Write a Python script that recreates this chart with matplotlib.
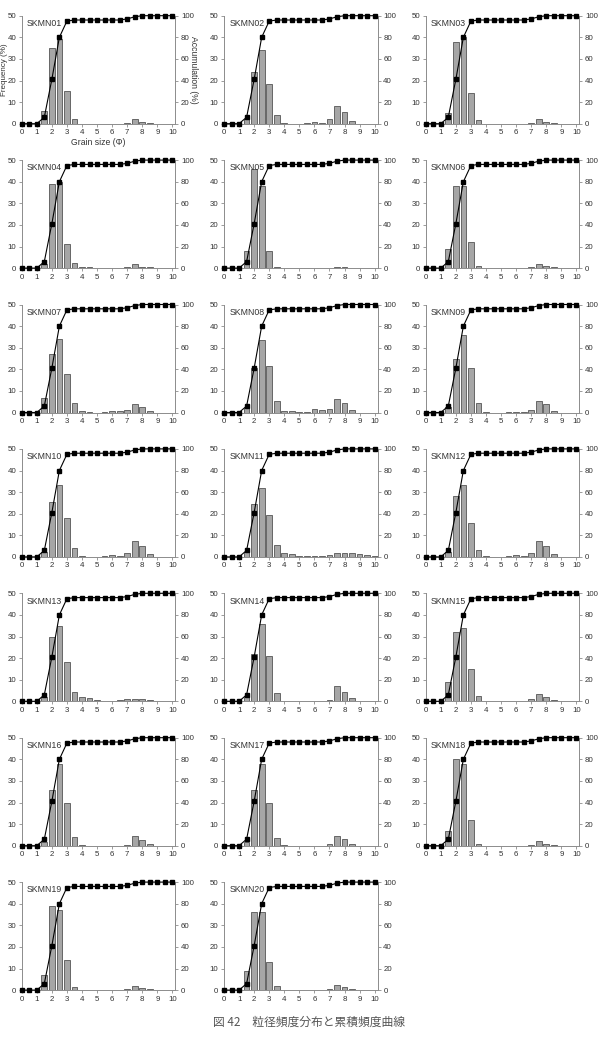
import matplotlib
matplotlib.use("Agg")
import matplotlib.pyplot as plt
import numpy as np

plt.rcParams['font.family'] = ['Liberation Sans', 'DejaVu Sans']

# bin centres (phi) for the frequency bars
bins = [0.5, 1.0, 1.5, 2.0, 2.5, 3.0, 3.5, 4.0, 4.5, 5.0,
        5.5, 6.0, 6.5, 7.0, 7.5, 8.0, 8.5, 9.0, 9.5, 10.0]

# accumulation curve (same on every panel in the original)
cum_x = [0, 0.5, 1, 1.5, 2, 2.5, 3, 3.5, 4, 4.5, 5, 5.5, 6, 6.5, 7, 7.5, 8, 8.5, 9, 9.5, 10]
cum_y = [0, 0, 0, 6, 41, 80, 95, 96, 96, 96, 96, 96, 96, 96, 97, 99, 100, 100, 100, 100, 100]

samples = ["SKMN01", "SKMN02", "SKMN03", "SKMN04", "SKMN05", "SKMN06", "SKMN07",
           "SKMN08", "SKMN09", "SKMN10", "SKMN11", "SKMN12", "SKMN13", "SKMN14",
           "SKMN15", "SKMN16", "SKMN17", "SKMN18", "SKMN19", "SKMN20"]

freq_01 = [0, 0, 6, 35, 39, 15, 2, 0, 0, 0, 0, 0, 0, 0.3, 2, 1, 0.3, 0, 0, 0]
freq_02 = [0, 0, 2, 24, 34, 18.5, 4, 0.3, 0, 0, 0.3, 0.8, 0.3, 2, 8, 5.5, 1.3, 0, 0, 0]
freq_03 = [0, 0, 5, 38, 40, 14, 1.5, 0, 0, 0, 0, 0, 0, 0.3, 2, 0.8, 0.3, 0, 0, 0]
freq_04 = [0, 0, 2, 39, 40, 11, 2.5, 0.5, 0.3, 0, 0, 0, 0, 0.3, 1.8, 0.6, 0.3, 0, 0, 0]
freq_05 = [0, 0, 8, 46, 38, 8, 0.3, 0, 0, 0, 0, 0, 0, 0, 0.4, 0.3, 0, 0, 0, 0]
freq_06 = [0, 0, 9, 38, 38, 12, 1, 0, 0, 0, 0, 0, 0, 0.4, 1.8, 0.8, 0.3, 0, 0, 0]
freq_07 = [0, 0, 6.5, 27, 34, 18, 4.3, 0.7, 0.4, 0, 0.3, 0.7, 0.6, 1, 4, 2.6, 0.6, 0, 0, 0]
freq_08 = [0, 0, 2, 20.5, 33.5, 21.5, 5.2, 0.8, 0.6, 0.3, 0.3, 1.6, 1, 1.7, 6.3, 4.4, 1, 0, 0, 0]
freq_09 = [0, 0, 2.5, 25, 36, 20.5, 4.5, 0.3, 0, 0, 0.3, 0.3, 0.3, 1, 5.5, 3.8, 0.8, 0, 0, 0]
freq_10 = [0, 0, 2.5, 25.5, 33.5, 18, 4, 0.3, 0, 0, 0.2, 0.7, 0.6, 1.6, 7.3, 5.2, 1.2, 0, 0, 0]
freq_11 = [0, 0, 2.5, 24.5, 32, 19.5, 5.5, 1.8, 1.4, 0.6, 0.3, 0.5, 0.3, 1, 1.6, 1.8, 1.8, 1.4, 0.7, 0.3]
freq_12 = [0, 0, 2.5, 28, 33.5, 15.5, 3, 0.2, 0, 0, 0.2, 0.7, 0.6, 1.6, 7.3, 5.2, 1.2, 0, 0, 0]
freq_13 = [0, 0, 2, 30, 35, 18, 4.5, 2, 1.5, 0.5, 0.3, 0.3, 0.5, 1, 1.2, 1, 0.7, 0.3, 0, 0]
freq_14 = [0, 0, 2, 22, 36, 21, 4, 0.3, 0, 0, 0, 0, 0, 0.8, 7, 4.5, 1.5, 0, 0, 0]
freq_15 = [0, 0, 9, 32, 34, 15, 2.5, 0.3, 0, 0, 0, 0, 0, 1, 3.5, 2, 0.5, 0, 0, 0]
freq_16 = [0, 0, 1.5, 26, 38, 20, 4, 0.3, 0, 0, 0, 0, 0, 0.5, 4.5, 2.5, 0.7, 0, 0, 0]
freq_17 = [0, 0, 1.5, 26, 38, 20, 3.5, 0.3, 0, 0, 0, 0, 0, 1, 4.5, 3, 0.7, 0, 0, 0]
freq_18 = [0, 0, 7, 40, 38, 12, 1, 0, 0, 0, 0, 0, 0, 0.3, 2, 1, 0.3, 0, 0, 0]
freq_19 = [0, 0, 7, 39, 37, 14, 1.5, 0, 0, 0, 0, 0, 0, 0.3, 2, 0.8, 0.3, 0, 0, 0]
freq_20 = [0, 0, 9, 36, 36, 13, 2, 0, 0, 0, 0, 0, 0, 0.3, 2.5, 1.5, 0.5, 0, 0, 0]

freqs = [freq_01, freq_02, freq_03, freq_04, freq_05, freq_06, freq_07, freq_08,
         freq_09, freq_10, freq_11, freq_12, freq_13, freq_14, freq_15, freq_16,
         freq_17, freq_18, freq_19, freq_20]

W, H = 603, 1043
fig = plt.figure(figsize=(W / 100, H / 100), dpi=100)
fig.set_facecolor("white")

col_x = [21.7, 224, 425.7]
ax_w = 153.7
ax_h = 108
axis_col = "#8c8c8c"
txt_col = "#333333"

for i, (name, fr) in enumerate(zip(samples, freqs)):
    r, c = divmod(i, 3)
    top = 15.7 + 144.4 * r
    ax = fig.add_axes([col_x[c] / W, 1 - (top + ax_h) / H, ax_w / W, ax_h / H])
    ax.bar(bins, fr, width=0.38, color="#a6a6a6", edgecolor="#3c3c3c", lw=0.5, zorder=2)
    ax.set_xlim(0, 10.2)
    ax.set_ylim(0, 50)
    ax.set_xticks(range(11))
    ax.set_yticks(range(0, 51, 10))
    ax.spines["top"].set_visible(False)
    ax.spines["right"].set_visible(False)
    for s in ("left", "bottom"):
        ax.spines[s].set_color(axis_col)
        ax.spines[s].set_linewidth(0.7)
    ax.tick_params(direction="out", length=2.5, width=0.6, color=axis_col,
                   labelsize=5.7, labelcolor=txt_col, pad=1.5)
    ax.text(0.35, 48.5, name, fontsize=6.3, color=txt_col, va="top", ha="left")

    ax2 = ax.twinx()
    ax2.plot(cum_x, cum_y, color="black", lw=0.8, marker="s", ms=3.2,
             clip_on=False, zorder=3)
    ax2.set_ylim(0, 100)
    ax2.set_yticks(range(0, 101, 20))
    ax2.spines["top"].set_visible(False)
    ax2.spines["left"].set_visible(False)
    ax2.spines["bottom"].set_visible(False)
    ax2.spines["right"].set_color(axis_col)
    ax2.spines["right"].set_linewidth(0.7)
    ax2.tick_params(direction="out", length=2.5, width=0.6, color=axis_col,
                    labelsize=5.7, labelcolor=txt_col, pad=1.5)

    if i == 0:
        fig.text(1 / W, 1 - (top + ax_h / 2) / H, "Frequency (%)", fontsize=5.8,
                 color=txt_col, rotation=90, ha="left", va="center")
        ax.set_xlabel("Grain size (Φ)", fontsize=6.2, color=txt_col, labelpad=1)
        ax2.set_ylabel("Accumulation (%)", fontsize=6.2, color=txt_col,
                       rotation=-90, labelpad=3)

fig.text(0.513, 1 - 1022 / H, "図 42\u3000粒径頻度分布と累積頻度曲線", fontsize=8.5,
         color="#555555", ha="center", va="center",
         family=["Noto Sans CJK JP", "DejaVu Sans"])

plt.savefig("out.png", dpi=100, facecolor="white")
